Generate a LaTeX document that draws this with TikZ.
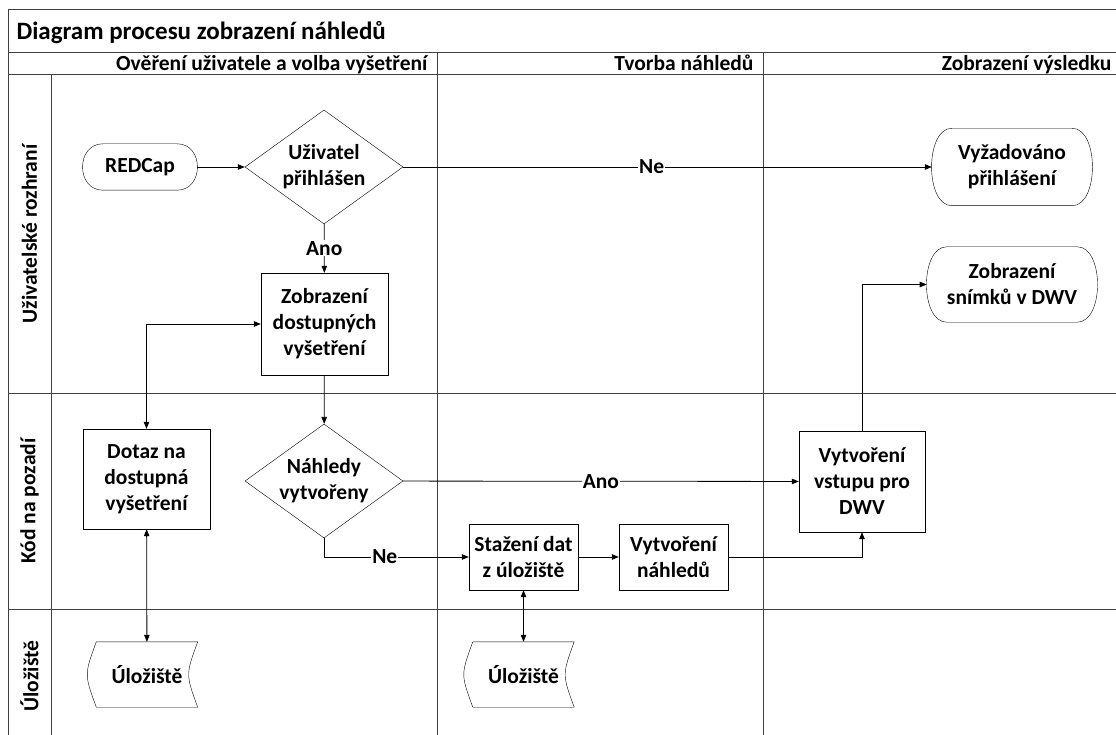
\documentclass[tikz,border=0pt]{standalone}
\usepackage{fontspec}
\setmainfont{Carlito}
\usetikzlibrary{positioning,calc,arrows.meta,shapes.geometric}
\tikzset{>={Triangle[length=7pt,width=5.5pt]}}

\tikzset{
  every node/.style={font=\bfseries\fontsize{21.5}{26}\selectfont,align=center},
  lane/.style={draw=black!75,line width=1pt},
  lanetext/.style={font=\bfseries\fontsize{21.5}{26}\selectfont},
  process/.style={draw,rectangle,inner sep=2pt},
  decision/.style={draw,diamond,inner sep=0pt,aspect=1.39,minimum width=158pt,minimum height=114pt},
  terminal/.style={inner sep=0pt},
  storebox/.style={inner sep=0pt,minimum width=101pt,minimum height=65pt},
  lbl/.style={fill=white,inner sep=1pt},
  conn/.style={draw,line width=.8pt}
}

\begin{document}
\begin{tikzpicture}[x=1pt,y=-1pt]
% Page is 1116 x 735, frame runs past the right and bottom edges
\useasboundingbox (0,0) rectangle (1116,735);
\clip (0,0) rectangle (1116,735);

% Swimlane frame
\draw[lane] (8,10) rectangle (1128,745);
\draw[lane] (8,53) -- (1128,53);
\draw[lane] (8,75) -- (1128,75);
\draw[lane] (437,53) -- (437,745);
\draw[lane] (763,53) -- (763,745);
\draw[lane] (51,75) -- (51,745);
\draw[lane] (8,393) -- (1128,393);
\draw[lane] (8,609) -- (1128,609);

% Title, phases and lanes
\node[anchor=base west,font=\bfseries\fontsize{25}{30}\selectfont] (title) at (13,40) {Diagram procesu zobrazení náhledů};
\node[lanetext,anchor=base east] (phase1) at (431,71) {Ověření uživatele a volba vyšetření};
\node[lanetext,anchor=base east] (phase2) at (757,71) {Tvorba náhledů};
\node[lanetext,anchor=base east] (phase3) at (1115,71) {Zobrazení výsledku};
\node[lanetext,rotate=90] (laneui) at (29.5,234) {Uživatelské rozhraní};
\node[lanetext,rotate=90] (lanebe) at (29.5,501) {Kód na pozadí};
\node[lanetext,rotate=90] (lanest) at (29.5,676) {Úložiště};

% User interface lane
\node[terminal,minimum width=74pt,minimum height=46pt] (redcap) at (140,167) {REDCap};
\node[decision] (logged) at (324,167) {Uživatel\\přihlášen};
\node[terminal,minimum width=120pt,minimum height=77pt] (required) at (1012,167) {Vyžadováno\\přihlášení};
\node[process,minimum width=127pt,minimum height=102pt] (list) at (324.5,324) {Zobrazení\\dostupných\\vyšetření};
\node[terminal,minimum width=120pt,minimum height=75pt] (show) at (1012,284.5) {Zobrazení\\snímků v DWV};
\foreach \t in {redcap,required,show}
  \draw (\t.north west) -- (\t.north east)
     .. controls ($(\t.north east)+(27,0)$) and ($(\t.south east)+(27,0)$) .. (\t.south east)
     -- (\t.south west)
     .. controls ($(\t.south west)+(-27,0)$) and ($(\t.north west)+(-27,0)$) .. cycle;

% Backend lane
\node[process,minimum width=127pt,minimum height=100pt] (query) at (146.5,479) {Dotaz na\\dostupná\\vyšetření};
\node[decision] (ready) at (324,481) {Náhledy\\vytvořeny};
\node[process,minimum width=109pt,minimum height=66pt] (fetch) at (523.5,557) {Stažení dat\\z úložiště};
\node[process,minimum width=109pt,minimum height=66pt] (thumbs) at (673.5,557) {Vytvoření\\náhledů};
\node[process,minimum width=126pt,minimum height=101pt] (input) at (862,481.5) {Vytvoření\\vstupu pro\\DWV};

% Storage lane
\node[storebox] (store1) at (147,674.5) {Úložiště};
\node[storebox] (store2) at (523.5,674.5) {Úložiště};
\foreach \s in {store1,store2}
  \draw (\s.north west) .. controls ($(\s.west)+(-12,0)$) .. (\s.south west)
     -- (\s.south east) .. controls ($(\s.east)+(-12,0)$) .. (\s.north east) -- cycle;

% Connectors
\draw[conn,->] ($(redcap.east)+(20,0)$) -- (logged);
\draw[conn,->] (logged) -- node[lbl,pos=.47] {Ne} ($(required.west)+(-20,0)$);
\draw[conn,->] (logged) -- node[lbl] {Ano} (list);
\draw[conn,->] (list) -- (ready);
\draw[conn,<->] (query.north) |- (list.west);
\draw[conn,<->] (query) -- (store1);
\draw[conn,->] (ready) -- node[lbl] {Ano} (input);
\draw[conn,->] (ready.south) |- node[lbl,pos=.71] {Ne} (fetch.west);
\draw[conn,->] (fetch) -- (thumbs);
\draw[conn,->] (thumbs.east) -| (input.south);
\draw[conn,->] (input.north) |- ($(show.west)+(-20,0)$);
\draw[conn,<->] (fetch) -- (store2);

\end{tikzpicture}
\end{document}
